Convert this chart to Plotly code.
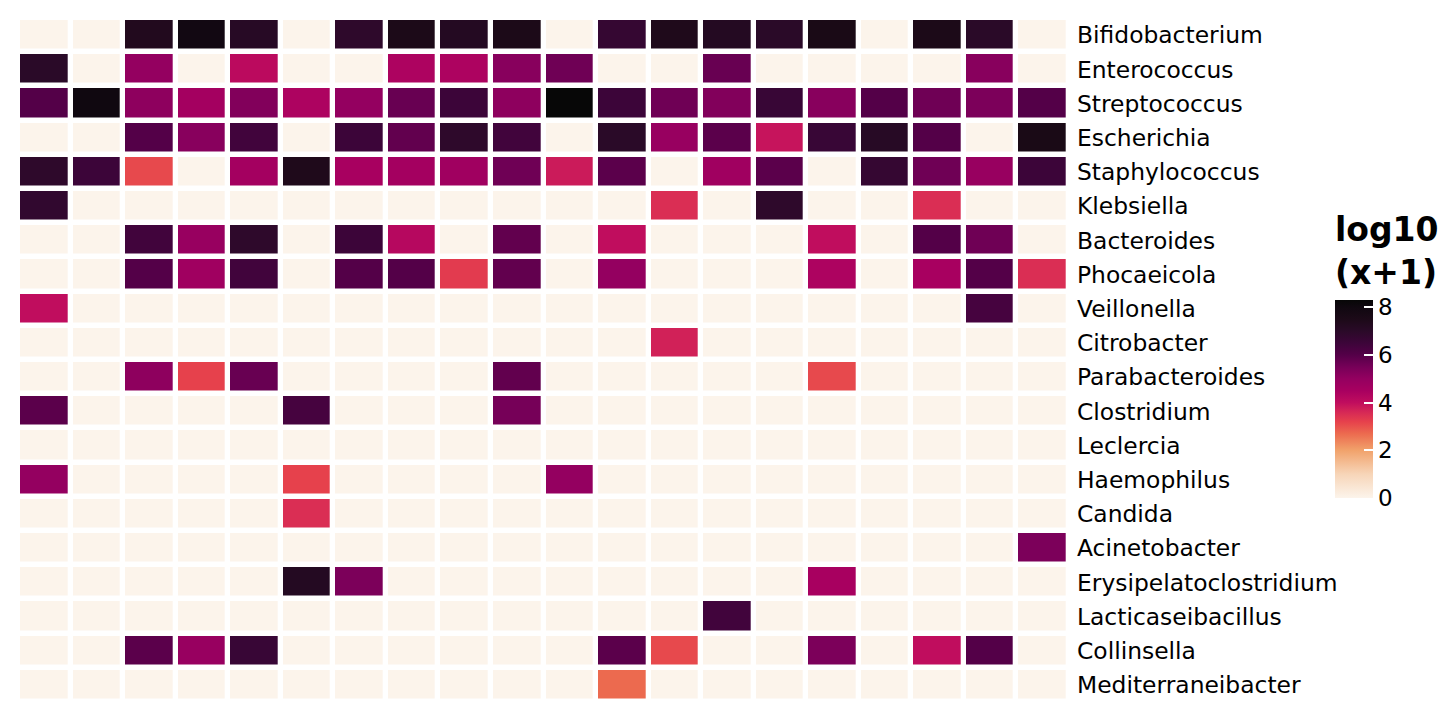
import plotly.graph_objects as go

genera = ["Bifidobacterium", "Enterococcus", "Streptococcus", "Escherichia",
          "Staphylococcus", "Klebsiella", "Bacteroides", "Phocaeicola",
          "Veillonella", "Citrobacter", "Parabacteroides", "Clostridium",
          "Leclercia", "Haemophilus", "Candida", "Acinetobacter",
          "Erysipelatoclostridium", "Lacticaseibacillus", "Collinsella",
          "Mediterraneibacter"]

samples = [f"S{i}" for i in range(1, 21)]

# log10(x+1) abundance per genus (rows) and sample (columns)
bifidobacterium = [0, 0, 7.3, 7.9, 7.1, 0, 6.9, 7.5, 7.2, 7.5, 0, 6.7, 7.4, 7.2, 7.0, 7.6, 0, 7.5, 7.0, 0]
enterococcus = [7.0, 0, 5.0, 0, 4.1, 0, 0, 4.4, 4.4, 5.2, 5.6, 0, 0, 5.7, 0, 0, 0, 0, 5.2, 0]
streptococcus = [6.0, 8.0, 5.1, 4.6, 5.3, 4.4, 5.0, 5.7, 6.5, 5.1, 8.3, 6.5, 5.6, 5.3, 6.6, 5.2, 6.0, 5.6, 5.4, 6.0]
escherichia = [0, 0, 6.0, 5.2, 6.4, 0, 6.5, 5.8, 6.9, 6.4, 0, 7.0, 4.9, 5.9, 3.9, 6.6, 7.1, 6.0, 0, 7.6]
staphylococcus = [6.9, 6.5, 3.1, 0, 4.6, 7.4, 4.5, 4.6, 4.7, 5.6, 3.8, 5.9, 0, 4.7, 5.9, 0, 6.7, 5.6, 4.9, 6.5]
klebsiella = [6.8, 0, 0, 0, 0, 0, 0, 0, 0, 0, 0, 0, 3.5, 0, 6.9, 0, 0, 3.5, 0, 0]
bacteroides = [0, 0, 6.4, 4.9, 6.9, 0, 6.5, 4.2, 0, 5.8, 0, 4.0, 0, 0, 0, 4.0, 0, 6.0, 5.6, 0]
phocaeicola = [0, 0, 6.0, 4.7, 6.4, 0, 6.0, 6.0, 3.3, 5.8, 0, 5.0, 0, 0, 0, 4.4, 0, 4.5, 6.0, 3.5]
veillonella = [4.0, 0, 0, 0, 0, 0, 0, 0, 0, 0, 0, 0, 0, 0, 0, 0, 0, 0, 6.3, 0]
citrobacter = [0, 0, 0, 0, 0, 0, 0, 0, 0, 0, 0, 0, 3.7, 0, 0, 0, 0, 0, 0, 0]
parabacteroides = [0, 0, 5.1, 3.2, 5.7, 0, 0, 0, 0, 5.8, 0, 0, 0, 0, 0, 3.1, 0, 0, 0, 0]
clostridium = [5.9, 0, 0, 0, 0, 6.3, 0, 0, 0, 5.5, 0, 0, 0, 0, 0, 0, 0, 0, 0, 0]
leclercia = [0] * 20
haemophilus = [5.0, 0, 0, 0, 0, 3.2, 0, 0, 0, 0, 5.0, 0, 0, 0, 0, 0, 0, 0, 0, 0]
candida = [0, 0, 0, 0, 0, 3.5, 0, 0, 0, 0, 0, 0, 0, 0, 0, 0, 0, 0, 0, 0]
acinetobacter = [0, 0, 0, 0, 0, 0, 0, 0, 0, 0, 0, 0, 0, 0, 0, 0, 0, 0, 0, 5.4]
erysipelatoclostridium = [0, 0, 0, 0, 0, 7.2, 5.4, 0, 0, 0, 0, 0, 0, 0, 0, 4.5, 0, 0, 0, 0]
lacticaseibacillus = [0, 0, 0, 0, 0, 0, 0, 0, 0, 0, 0, 0, 0, 6.4, 0, 0, 0, 0, 0, 0]
collinsella = [0, 0, 5.9, 4.9, 6.6, 0, 0, 0, 0, 0, 0, 5.9, 3.1, 0, 0, 5.4, 0, 4.0, 6.0, 0]
mediterraneibacter = [0, 0, 0, 0, 0, 0, 0, 0, 0, 0, 0, 2.7, 0, 0, 0, 0, 0, 0, 0, 0]

z = [bifidobacterium, enterococcus, streptococcus, escherichia, staphylococcus,
     klebsiella, bacteroides, phocaeicola, veillonella, citrobacter,
     parabacteroides, clostridium, leclercia, haemophilus, candida,
     acinetobacter, erysipelatoclostridium, lacticaseibacillus, collinsella,
     mediterraneibacter]

zmax = 8.3
anchors = [
    (0.0, "#FCF4EB"), (1.0, "#F7D5B8"), (2.0, "#F1A26B"), (2.7, "#EC6A4F"),
    (3.2, "#E6414C"), (3.6, "#D62856"), (4.0, "#C00D5E"), (4.5, "#A80060"),
    (5.0, "#940060"), (5.5, "#760058"), (6.0, "#540048"), (6.5, "#3C0539"),
    (7.0, "#2A0A28"), (7.5, "#1C0A18"), (8.0, "#100810"), (8.3, "#070707"),
]
colorscale = [[v / zmax, c] for v, c in anchors]

fig = go.Figure(go.Heatmap(
    z=z, x=samples, y=genera,
    zmin=0, zmax=zmax,
    colorscale=colorscale,
    xgap=5.3, ygap=5.5,
    colorbar=dict(
        title=dict(text="<b>log10<br>(x+1)</b>", side="top",
                   font=dict(size=33, color="black", family="DejaVu Sans")),
        tickvals=[0, 2, 4, 6, 8],
        ticks="inside", ticklen=9, tickwidth=2, tickcolor="white",
        tickfont=dict(size=23, color="black", family="DejaVu Sans"),
        thickness=38, len=285, lenmode="pixels",
        xref="container", x=1335 / 1440, xanchor="left", xpad=0,
        yref="paper", y=0.298, yanchor="bottom", ypad=0,
        outlinewidth=0,
    ),
))

fig.update_layout(
    width=1440, height=720,
    margin=dict(l=18, r=371, t=18, b=18),
    paper_bgcolor="white", plot_bgcolor="white",
    font=dict(family="DejaVu Sans", size=23.4, color="black"),
    xaxis=dict(visible=False),
    yaxis=dict(side="right", autorange="reversed", showgrid=False,
               zeroline=False, ticks="", ticklabelstandoff=7, automargin=False,
               tickfont=dict(size=23.4, color="black")),
)

fig.write_html("out.html", config={"displayModeBar": False},
               post_script="document.body.style.margin='0';")
